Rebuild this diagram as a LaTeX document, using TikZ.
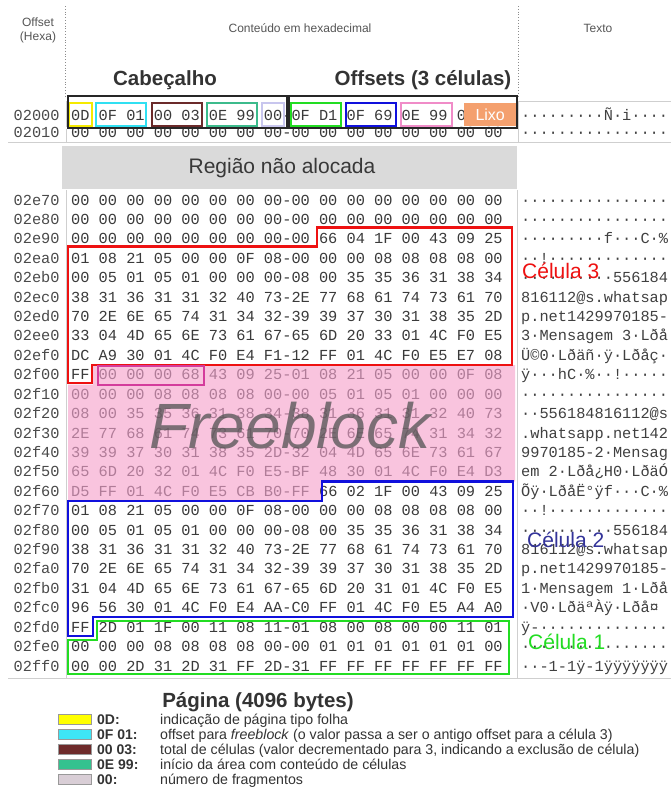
\documentclass[tikz,border=0pt]{standalone}
\usepackage{fontspec}
\setmainfont{Liberation Sans}
\newfontfamily\hexfont{Liberation Mono}

\definecolor{hexcol}{HTML}{3A3A3A}
\definecolor{labcol}{HTML}{4A4A4A}
\definecolor{txtcol}{HTML}{404040}
\definecolor{hdrcol}{HTML}{555555}
\definecolor{fbtext}{HTML}{B07C98}
\definecolor{fbfill}{HTML}{F9C4DE}
\definecolor{sepcol}{HTML}{CFCFCF}
\definecolor{grayband}{HTML}{DADADA}
\definecolor{cellred}{HTML}{EE1111}
\definecolor{cellblue}{HTML}{1010DD}
\definecolor{cellgreen}{HTML}{22DD22}
\definecolor{magbox}{HTML}{D43C9C}
\definecolor{hyellow}{HTML}{F5EA00}
\definecolor{hcyan}{HTML}{30E0F2}
\definecolor{hbrown}{HTML}{6B2A2A}
\definecolor{hteal}{HTML}{3CBB8C}
\definecolor{hlav}{HTML}{C8C6EE}
\definecolor{hpink}{HTML}{F08CC8}
\definecolor{horange}{HTML}{F4A06E}
\definecolor{lgyellow}{HTML}{FFFF00}
\definecolor{lgcyan}{HTML}{3EE6F6}
\definecolor{lgbrown}{HTML}{6E2B2B}
\definecolor{lgteal}{HTML}{34C28F}
\definecolor{lglav}{HTML}{D9CED6}
\definecolor{cell2col}{HTML}{333399}

% one line of the dump: offset, sixteen bytes, printable text
\newcommand\hexrow[4]{%
  \node[lbl] (L#2) at (13.5,{205+19.42*#1}) {#2};
  \node[hx]  (H#2) at (71,{205+19.42*#1}) {#3};
  \node[tx]  (T#2) at (521,{205+19.42*#1}) {#4};
}

\begin{document}
\begin{tikzpicture}[x=1pt,y=-1pt,
  mono/.style={inner sep=0pt, anchor=base west, font=\hexfont\fontsize{15.3}{16}\selectfont},
  lbl/.style={mono, text=labcol},
  hx/.style={mono, text=hexcol},
  tx/.style={mono, text=txtcol},
  hdr/.style={inner sep=0pt, font=\fontsize{12}{14}\selectfont, text=hdrcol, align=center},
  title/.style={inner sep=0pt, font=\bfseries\fontsize{20.5}{22}\selectfont, text=black!80},
  sep/.style={draw=sepcol, line width=0.8pt},
  bytebox/.style={line width=1.6pt},
  groupbox/.style={draw=black!85, line width=2pt},
  cell/.style={line width=2.4pt, line join=miter},
  celltag/.style={inner sep=0pt, anchor=base west, font=\fontsize{21}{24}\selectfont},
  swatch/.style={draw=black!40, line width=0.5pt},
  lgkey/.style={inner sep=0pt, anchor=base west, font=\bfseries\fontsize{14}{15}\selectfont, text=black!80},
  lgtext/.style={inner sep=0pt, anchor=base west, font=\fontsize{14.2}{15}\selectfont, text=black!80}
]
\useasboundingbox (0,0) rectangle (671,793);
\fill[white] (0,0) rectangle (671,793);

% column headers
\node[hdr] (hoff) at (38,30) {Offset\\(Hexa)};
\node[hdr] (hhex) at (300,28) {Conteúdo em hexadecimal};
\node[hdr] (htxt) at (598,28) {Texto};
\draw[dotted, black!45, line width=0.8pt] (65,6) -- (65,98);
\draw[dotted, black!45, line width=0.8pt] (518,6) -- (518,98);

\node[title] (tcab) at (165,80) {Cabeçalho};
\node[title] (toff) at (423,80) {Offsets (3 células)};

% page header rows
\draw[sep] (518,101) -- (671,101);
\draw[sep] (8,142) -- (671,142);
\draw[sep] (66,101) -- (66,142);
\draw[sep] (518,101) -- (518,142);

\node[lbl] (L02000) at (13.5,120) {02000};
\node[hx]  (H02000) at (71,120) {0D 0F 01 00 03 0E 99 00-0F D1 0F 69 0E 99 00 00};
\node[tx]  (T02000) at (521,120) {·········Ñ·i····};
\node[lbl] (L02010) at (13.5,137) {02010};
\node[hx]  (H02010) at (71,137) {00 00 00 00 00 00 00 00-00 00 00 00 00 00 00 00};
\node[tx]  (T02010) at (521,137) {················};

\fill[white] (66,126.5) rectangle (517,129);
\draw[bytebox, draw=hyellow] (69,103) rectangle (92,126);
\draw[bytebox, draw=hcyan]   (96,103) rectangle (146,126);
\draw[bytebox, draw=hbrown]  (152,103) rectangle (202,126);
\draw[bytebox, draw=hteal]   (207,103) rectangle (257,126);
\draw[bytebox, draw=hlav]    (262,103) rectangle (284,126);
\draw[bytebox, draw=cellgreen] (291,103) rectangle (341,126);
\draw[bytebox, draw=cellblue]  (346,103) rectangle (396,126);
\draw[bytebox, draw=hpink]     (401,103) rectangle (452,126);
\node[fill=horange, minimum width=52pt, minimum height=23pt, anchor=north west,
      inner sep=0pt, text=white, font=\fontsize{16}{18}\selectfont] (lixo) at (464,103) {Lixo};
\draw[groupbox] (68,96) rectangle (287,128);
\draw[groupbox] (289,96) rectangle (517,128);

% unallocated band
\fill[grayband] (62,146) rectangle (517,189);
\node[inner sep=0pt, text=black!78, font=\fontsize{21}{23}\selectfont] (regiao) at (282,168) {Região não alocada};

% freeblock background
\fill[fbfill] (93,365) -- (515,365) -- (515,481.6) -- (322,481.6) -- (322,501) -- (68,501)
  -- (68,384.5) -- (93,384.5) -- cycle;

% lower table separators
\draw[sep] (66,190) -- (66,678);
\draw[sep] (517,190) -- (517,678);
\draw[sep] (8,678) -- (671,678);

\hexrow{0}{02e70}{00 00 00 00 00 00 00 00-00 00 00 00 00 00 00 00}{················}
\hexrow{1}{02e80}{00 00 00 00 00 00 00 00-00 00 00 00 00 00 00 00}{················}
\hexrow{2}{02e90}{00 00 00 00 00 00 00 00-00 66 04 1F 00 43 09 25}{·········f···C·\%}
\hexrow{3}{02ea0}{01 08 21 05 00 00 0F 08-00 00 00 08 08 08 08 00}{··!·············}
\hexrow{4}{02eb0}{00 05 01 05 01 00 00 00-08 00 35 35 36 31 38 34}{··········556184}
\hexrow{5}{02ec0}{38 31 36 31 31 32 40 73-2E 77 68 61 74 73 61 70}{816112@s.whatsap}
\hexrow{6}{02ed0}{70 2E 6E 65 74 31 34 32-39 39 37 30 31 38 35 2D}{p.net1429970185-}
\hexrow{7}{02ee0}{33 04 4D 65 6E 73 61 67-65 6D 20 33 01 4C F0 E5}{3·Mensagem 3·Lðå}
\hexrow{8}{02ef0}{DC A9 30 01 4C F0 E4 F1-12 FF 01 4C F0 E5 E7 08}{Ü©0·Lðäñ·ÿ·Lðåç·}
\hexrow{9}{02f00}{FF \textcolor{fbtext}{00 00 00 68 43 09 25-01 08 21 05 00 00 0F 08}}{ÿ···hC·\%··!·····}
\hexrow{10}{02f10}{\textcolor{fbtext}{00 00 00 08 08 08 08 00-00 05 01 05 01 00 00 00}}{················}
\hexrow{11}{02f20}{\textcolor{fbtext}{08 00 35 35 36 31 38 34-38 31 36 31 31 32 40 73}}{··556184816112@s}
\hexrow{12}{02f30}{\textcolor{fbtext}{2E 77 68 61 74 73 61 70-70 2E 6E 65 74 31 34 32}}{.whatsapp.net142}
\hexrow{13}{02f40}{\textcolor{fbtext}{39 39 37 30 31 38 35 2D-32 04 4D 65 6E 73 61 67}}{9970185-2·Mensag}
\hexrow{14}{02f50}{\textcolor{fbtext}{65 6D 20 32 01 4C F0 E5-BF 48 30 01 4C F0 E4 D3}}{em 2·Lðå¿H0·LðäÓ}
\hexrow{15}{02f60}{\textcolor{fbtext}{D5 FF 01 4C F0 E5 CB B0-FF} 66 02 1F 00 43 09 25}{Õÿ·LðåË°ÿf···C·\%}
\hexrow{16}{02f70}{01 08 21 05 00 00 0F 08-00 00 00 08 08 08 08 00}{··!·············}
\hexrow{17}{02f80}{00 05 01 05 01 00 00 00-08 00 35 35 36 31 38 34}{··········556184}
\hexrow{18}{02f90}{38 31 36 31 31 32 40 73-2E 77 68 61 74 73 61 70}{816112@s.whatsap}
\hexrow{19}{02fa0}{70 2E 6E 65 74 31 34 32-39 39 37 30 31 38 35 2D}{p.net1429970185-}
\hexrow{20}{02fb0}{31 04 4D 65 6E 73 61 67-65 6D 20 31 01 4C F0 E5}{1·Mensagem 1·Lðå}
\hexrow{21}{02fc0}{96 56 30 01 4C F0 E4 AA-C0 FF 01 4C F0 E5 A4 A0}{·V0·LðäªÀÿ·Lðå¤}
\hexrow{22}{02fd0}{FF 2D 01 1F 00 11 08 11-01 08 00 08 00 00 11 01}{ÿ-··············}
\hexrow{23}{02fe0}{00 00 00 08 08 08 08 00-00 01 01 01 01 01 01 00}{················}
\hexrow{24}{02ff0}{00 00 2D 31 2D 31 FF 2D-31 FF FF FF FF FF FF FF}{··-1-1ÿ-1ÿÿÿÿÿÿÿ}

% cell outlines
\draw[cell, draw=cellred] (317,227.5) -- (512,227.5) -- (512,365) -- (92,365) -- (92,383)
  -- (68,383) -- (68,246.5) -- (317,246.5) -- cycle;
\draw[line width=1.6pt, draw=magbox] (98,366) rectangle (204,385);
\draw[cell, draw=cellblue] (322,481.6) -- (513,481.6) -- (513,617) -- (93,617) -- (93,636)
  -- (68,636) -- (68,501) -- (322,501) -- cycle;
\draw[cell, draw=cellgreen] (97,621) -- (509,621) -- (509,674) -- (68,674) -- (68,640)
  -- (97,640) -- cycle;

% overlay labels
\node[inner sep=0pt, anchor=base, text=black!68, opacity=0.75,
      font=\itshape\fontsize{64}{70}\selectfont] (fb) at (290,448) {Freeblock};
\node[celltag, text=cellred] (c3) at (522,278) {Célula 3};
\node[celltag, text=cell2col] (c2) at (527,547) {Célula 2};
\node[celltag, text=cellgreen] (c1) at (528,649) {Célula 1};

% legend
\node[title, anchor=base] (pg) at (258,707) {Página (4096 bytes)};
\draw[swatch, fill=lgyellow] (58,714) rectangle (91,724);
\draw[swatch, fill=lgcyan]   (58,729) rectangle (91,739);
\draw[swatch, fill=lgbrown]  (58,744) rectangle (91,754);
\draw[swatch, fill=lgteal]   (58,759) rectangle (91,769);
\draw[swatch, fill=lglav]    (58,774) rectangle (91,784);
\node[lgkey] (k1) at (97,724) {0D:};
\node[lgkey] (k2) at (97,739) {0F 01:};
\node[lgkey] (k3) at (97,754) {00 03:};
\node[lgkey] (k4) at (97,769) {0E 99:};
\node[lgkey] (k5) at (97,784) {00:};
\node[lgtext] (d1) at (160,724) {indicação de página tipo folha};
\node[lgtext] (d2) at (160,739) {offset para \textit{freeblock} (o valor passa a ser o antigo offset para a célula 3)};
\node[lgtext] (d3) at (160,754) {total de células (valor decrementado para 3, indicando a exclusão de célula)};
\node[lgtext] (d4) at (160,769) {início da área com conteúdo de células};
\node[lgtext] (d5) at (160,784) {número de fragmentos};
\end{tikzpicture}
\end{document}
